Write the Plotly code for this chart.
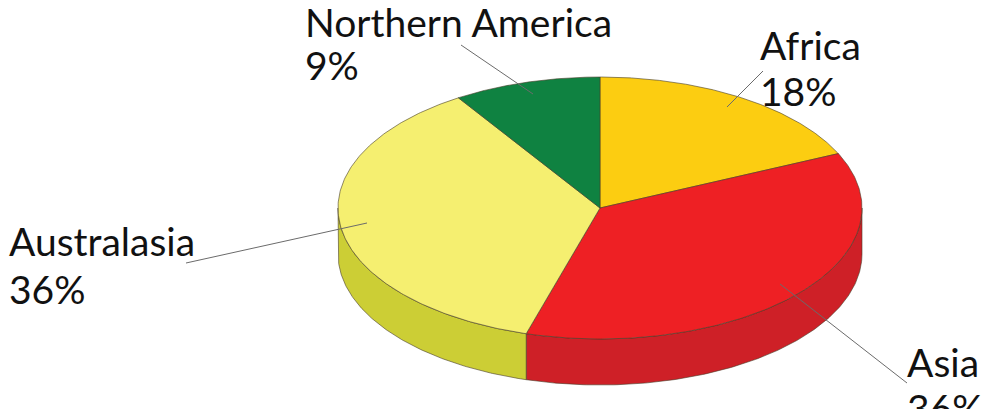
import numpy as np
import plotly.graph_objects as go

regions = ["Africa", "Asia", "Australasia", "Northern America"]
shares = [18, 36, 36, 9]
top_colors = ["#FCCD11", "#EE2024", "#F5EF70", "#0F8241"]
wall_colors = ["#C9A50E", "#CE2027", "#CCCE35", "#0C6633"]

W, H = 984, 409
CX, CY, RX, RY, DEPTH = 600, 208, 262, 131, 46
OUTLINE = "rgba(70,60,40,0.75)"

# label placement: left edge, centre of first text line, line gap
label_pos = {
    "Africa": (758, 45, 46),
    "Asia": (905, 362, 46),
    "Australasia": (7, 241, 48),
    "Northern America": (303, 22, 43),
}
# leader lines: label end, slice end
leaders = {
    "Africa": ((763, 71), (727, 107)),
    "Asia": ((907, 383), (780, 284)),
    "Australasia": ((186, 263), (367, 223)),
    "Northern America": ((461, 45), (533, 94)),
}


def ellipse(theta, dz=0.0):
    return CX + RX * np.sin(theta), CY - RY * np.cos(theta) + dz


fig = go.Figure()
edges = np.concatenate([[0], np.cumsum(shares)]) / sum(shares) * 2 * np.pi

# side walls: only the front half of the disc shows
for i, name in enumerate(regions):
    a0, a1 = max(edges[i], np.pi / 2), min(edges[i + 1], 3 * np.pi / 2)
    if a1 <= a0:
        continue
    t = np.linspace(a0, a1, 160)
    x1, y1 = ellipse(t)
    x2, y2 = ellipse(t[::-1], DEPTH)
    fig.add_trace(go.Scatter(
        x=np.r_[x1, x2, x1[0]], y=np.r_[y1, y2, y1[0]], mode="lines",
        fill="toself", fillcolor=wall_colors[i],
        line=dict(color=OUTLINE, width=0.8), hoverinfo="skip", showlegend=False,
    ))

# top face
for i, name in enumerate(regions):
    t = np.linspace(edges[i], edges[i + 1], 200)
    x, y = ellipse(t)
    fig.add_trace(go.Scatter(
        x=np.r_[CX, x, CX], y=np.r_[CY, y, CY], mode="lines",
        fill="toself", fillcolor=top_colors[i],
        line=dict(color=OUTLINE, width=0.8), hoverinfo="skip", showlegend=False,
    ))

# leaders
for name in regions:
    (x0, y0), (x1, y1) = leaders[name]
    fig.add_trace(go.Scatter(
        x=[x0, x1], y=[y0, y1], mode="lines",
        line=dict(color="#6b6b6b", width=1), hoverinfo="skip", showlegend=False,
    ))

# labels
for name, share in zip(regions, shares):
    lx, ly, gap = label_pos[name]
    for text, yy in ((name, ly), (f"{share}%", ly + gap)):
        fig.add_annotation(
            x=lx, y=yy, text=text, showarrow=False, xanchor="left", yanchor="middle",
            xref="x", yref="y", font=dict(family="Lato", size=39, color="#111111"),
        )

fig.update_xaxes(visible=False, range=[0, W], fixedrange=True)
fig.update_yaxes(visible=False, range=[H, 0], fixedrange=True)
fig.update_layout(
    width=W, height=H, margin=dict(l=0, r=0, t=0, b=0),
    paper_bgcolor="white", plot_bgcolor="white", showlegend=False,
)
fig.write_html(
    "out.html",
    config={"displayModeBar": False},
    post_script="document.body.style.margin='0';document.body.style.overflow='hidden';",
)
